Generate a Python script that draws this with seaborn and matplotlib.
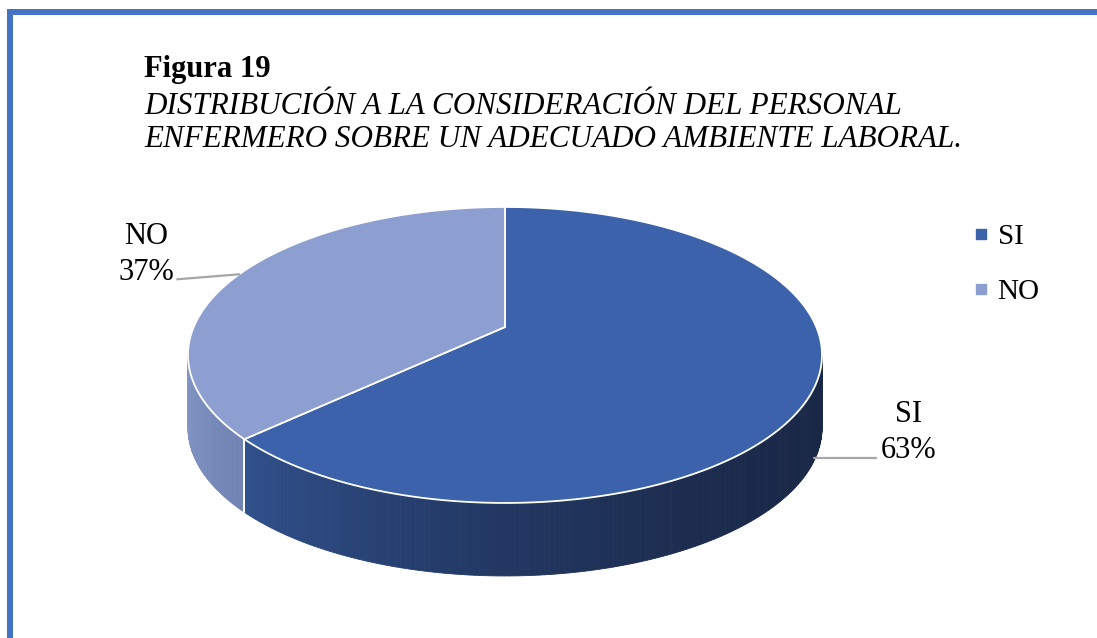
import numpy as np
import matplotlib
matplotlib.use("Agg")
import matplotlib.pyplot as plt
from matplotlib.patches import Polygon
from matplotlib.lines import Line2D
import seaborn as sns

sns.set_style("white")
plt.rcParams['font.family'] = ['Liberation Serif', 'DejaVu Serif']
plt.rcParams['text.color'] = 'black'

# ---- data ----
categories = ["SI", "NO"]
values = [63, 37]
pct_labels = ["63%", "37%"]
title_bold = "Figura 19"
title_lines = ["DISTRIBUCIÓN A LA CONSIDERACIÓN DEL PERSONAL",
               "ENFERMERO SOBRE UN ADECUADO AMBIENTE LABORAL."]

# ---- style ----
top_colors = ["#3b62aa", "#8d9fd0"]
side_colors = [["#30508b", "#263f6f", "#1e3055", "#1a2949", "#192746"],
               ["#8597c6", "#7a8dbd", "#6f83b3"]]
border_color = "#4472c4"

W, H = 1097, 638
fig = plt.figure(figsize=(W / 100, H / 100), dpi=100)
ax = fig.add_axes([0, 0, 1, 1])
ax.set_xlim(0, W)
ax.set_ylim(H, 0)
ax.axis("off")

# border (left + top)
ax.plot([10, 10, W + 5], [H + 5, 12, 12], color=border_color, lw=4.3,
        solid_joinstyle="miter", zorder=10)

# ---- perspective pie geometry ----
CX, CY = 505, 327
A, B, K = 311.3, 142.7, 0.189
DEPTH = 73


def proj(tdeg, dz=0.0):
    t = np.radians(tdeg)
    w = 1 + K * np.sin(t)
    return CX + A * np.cos(t) / w, CY - B * np.sin(t) / w + dz


total = float(sum(values))
spans = [v / total * 360 for v in values]
# slices go clockwise from 12 o'clock
bounds = []
start = 90.0
for s in spans:
    bounds.append((start - s, start))
    start -= s

# visible front wall range (silhouette where sin t = -K)
sil = np.degrees(np.arcsin(K))
vis_lo, vis_hi = -180 + sil, -sil

# side walls
for i, (lo, hi) in enumerate(bounds):
    for shift in (0, -360):
        a, b = max(lo + shift, vis_lo), min(hi + shift, vis_hi)
        if b <= a:
            continue
        n = max(int((b - a) / 0.75), 2)
        ts = np.linspace(a, b, n + 1)
        pal = sns.blend_palette(side_colors[i], n)
        for j in range(n):
            x1, y1 = proj(ts[j])
            x2, y2 = proj(ts[j + 1])
            poly = Polygon([(x1, y1), (x2, y2), (x2, y2 + DEPTH), (x1, y1 + DEPTH)],
                           closed=True, facecolor=pal[j], edgecolor=pal[j], lw=0.6,
                           zorder=2)
            ax.add_patch(poly)

# white vertical edge at slice boundaries on visible wall
for lo, hi in bounds:
    for t in (lo, hi):
        tt = ((t + 180) % 360) - 180
        if vis_lo < tt < vis_hi:
            x, y = proj(tt)
            ax.plot([x, x], [y, y + DEPTH], color="white", lw=1.2, zorder=3)

# top faces
for i, (lo, hi) in enumerate(bounds):
    ts = np.linspace(lo, hi, 300)
    pts = [proj(t) for t in ts]
    poly = Polygon([(CX, CY)] + pts, closed=True, facecolor=top_colors[i],
                   edgecolor="white", lw=1.3, joinstyle="round", zorder=4)
    ax.add_patch(poly)

# ---- data labels with leader lines ----
label_fs = 22
leader_color = "#a6a6a6"
for i, (lo, hi) in enumerate(bounds):
    mid = (lo + hi) / 2
    mt = ((mid + 180) % 360) - 180
    if mt < 0:  # front half -> anchor on lower wall
        ax_, ay_ = proj(mt, DEPTH)
        ay_ -= 3
        ex, ey = ax_ + 62, ay_
        tx = ex + 33
        ax.plot([ax_, ex], [ay_, ey], color=leader_color, lw=1.6, zorder=5)
        ax.text(tx, ey - 36, categories[i], fontsize=label_fs, ha="center", va="baseline")
        ax.text(tx, ey, pct_labels[i], fontsize=label_fs, ha="center", va="baseline")
    else:
        ax_, ay_ = proj(mt)
        ex, ey = ax_ - 62, ay_ + 5
        tx = ex - 31
        ax.plot([ax_, ex], [ay_, ey], color=leader_color, lw=1.6, zorder=5)
        ax.text(tx, ey - 35, categories[i], fontsize=label_fs, ha="center", va="baseline")
        ax.text(tx, ey + 1, pct_labels[i], fontsize=label_fs, ha="center", va="baseline")

# ---- legend ----
handles = [Line2D([0], [0], marker="s", linestyle="none", markersize=6.5,
                  markerfacecolor=c, markeredgecolor=c) for c in top_colors]
leg = ax.legend(handles, categories, loc="upper left", bbox_to_anchor=(972, 224),
                bbox_transform=ax.transData, frameon=False, fontsize=21,
                handlelength=0.6, handletextpad=0.28, labelspacing=0.97,
                borderpad=0, borderaxespad=0)
for t in leg.get_texts():
    t.set_color("black")

# ---- title ----
ax.text(144, 77, title_bold, fontsize=22, fontweight="bold", ha="left", va="baseline")
ax.text(144, 114, title_lines[0], fontsize=22.4, fontstyle="italic", ha="left", va="baseline")
ax.text(144, 147, title_lines[1], fontsize=22.4, fontstyle="italic", ha="left", va="baseline")

fig.savefig("out.png", dpi=100, facecolor="white")
